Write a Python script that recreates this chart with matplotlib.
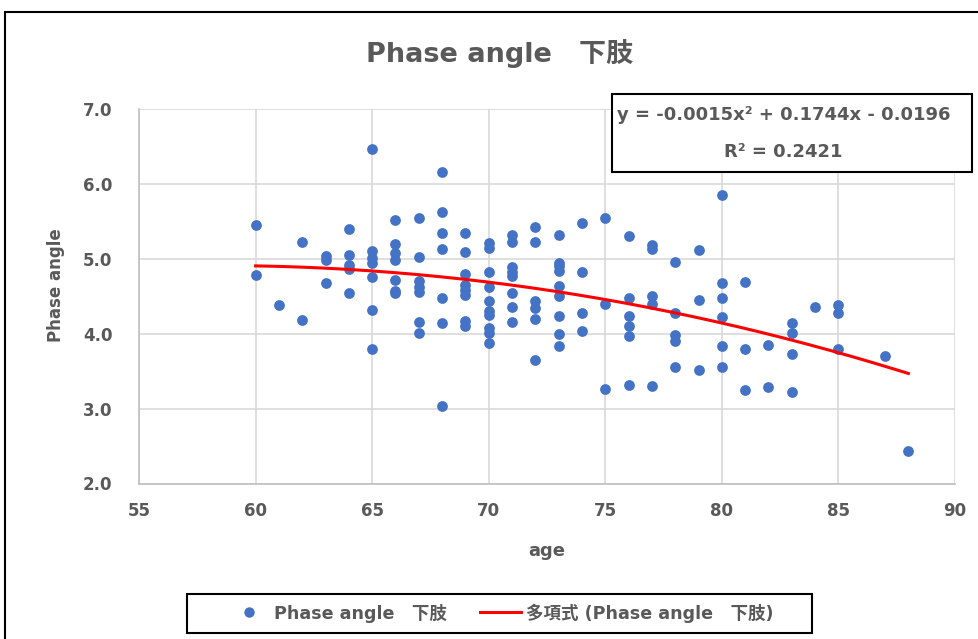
import numpy as np
import matplotlib
matplotlib.use("Agg")
import matplotlib.pyplot as plt
from matplotlib.lines import Line2D
from matplotlib.patches import Rectangle

plt.rcParams['font.family'] = ['DejaVu Sans', 'Noto Sans CJK JP']

# Phase angle (lower limb) by age
ages = {
    60: [5.45, 4.78],
    61: [4.38],
    62: [5.22, 4.18],
    63: [5.04, 4.98, 4.68],
    64: [5.40, 5.05, 4.92, 4.87, 4.54],
    65: [6.47, 5.10, 5.01, 4.94, 4.76, 4.31, 3.79],
    66: [5.52, 5.20, 5.08, 4.99, 4.72, 4.57, 4.54],
    67: [5.55, 5.03, 4.70, 4.63, 4.56, 4.16, 4.01],
    68: [6.16, 5.62, 5.35, 5.13, 4.48, 4.14, 3.03],
    69: [5.35, 5.09, 4.80, 4.65, 4.59, 4.52, 4.17, 4.10],
    70: [5.21, 5.14, 4.83, 4.63, 4.43, 4.30, 4.25, 4.08, 4.01, 3.88],
    71: [5.32, 5.22, 4.89, 4.83, 4.77, 4.55, 4.36, 4.15],
    72: [5.43, 5.23, 4.43, 4.34, 4.19, 3.65],
    73: [5.32, 4.95, 4.90, 4.84, 4.64, 4.50, 4.24, 3.99, 3.84],
    74: [5.48, 4.82, 4.27, 4.03],
    75: [5.55, 4.40, 3.26],
    76: [5.30, 4.48, 4.23, 4.10, 3.97, 3.32],
    77: [5.18, 5.13, 4.50, 4.39, 3.30],
    78: [4.96, 4.28, 3.98, 3.90, 3.56],
    79: [5.12, 4.45, 3.52],
    80: [5.85, 4.68, 4.47, 4.22, 3.83, 3.56],
    81: [4.69, 3.79, 3.25],
    82: [3.85, 3.29],
    83: [4.14, 4.01, 3.73, 3.22],
    84: [4.36],
    85: [4.38, 4.27, 3.80],
    87: [3.70],
    88: [2.43],
}
age = np.array([a for a, vals in ages.items() for _ in vals], dtype=float)
phase = np.array([v for vals in ages.values() for v in vals])

x_ticks = [55, 60, 65, 70, 75, 80, 85, 90]
y_ticks = [2.0, 3.0, 4.0, 5.0, 6.0, 7.0]
title = "Phase angle\u3000下肢"
series_label = "Phase angle\u3000下肢"
trend_label = "多項式 (Phase angle\u3000下肢)"
equation = "y = -0.0015x² + 0.1744x - 0.0196"
r2_text = "R² = 0.2421"

GRAY = "#595959"
BLUE = "#4472C4"

W, H = 979, 639
fig = plt.figure(figsize=(W / 100, H / 100), dpi=100)

def fx(px):
    return px / W

def fy(py):
    return 1 - py / H

AX_L, AX_R, AX_T, AX_B = 139, 955, 109, 483.5
ax = fig.add_axes([fx(AX_L), fy(AX_B), fx(AX_R) - fx(AX_L), fy(AX_T) - fy(AX_B)])

ax.scatter(age, phase, s=60, color=BLUE, zorder=3, linewidths=0)

coef = np.polyfit(age, phase, 2)
xs = np.linspace(age.min(), age.max(), 200)
ax.plot(xs, np.polyval(coef, xs), color="#FF0000", lw=2.2, zorder=4)

ax.set_xlim(55, 90)
ax.set_ylim(2, 7)
ax.set_xticks(x_ticks)
ax.set_yticks(y_ticks)
ax.set_yticklabels([f"{v:.1f}" for v in y_ticks])
ax.grid(True, color="#d9d9d9", lw=1.2)
ax.set_axisbelow(True)
for side in ("top", "right"):
    ax.spines[side].set_visible(False)
for side in ("left", "bottom"):
    ax.spines[side].set_color("#bfbfbf")
    ax.spines[side].set_linewidth(1.2)
ax.tick_params(length=0, labelsize=12, labelcolor=GRAY)
ax.tick_params(axis="y", pad=19)
ax.tick_params(axis="x", pad=13)
for lab in ax.get_xticklabels() + ax.get_yticklabels():
    lab.set_fontweight("bold")

ax.set_xlabel("age", fontsize=13, fontweight="bold", color=GRAY, labelpad=16)
ax.set_ylabel("Phase angle", fontsize=12, fontweight="bold", color=GRAY)
ax.yaxis.set_label_coords((65 - AX_L) / (AX_R - AX_L), (AX_B - 285) / (AX_B - AX_T))

fig.text(fx(500), fy(53), title, ha="center", va="center", fontsize=19.5,
         fontweight="bold", color=GRAY)

# outer chart frame
fig.patches.append(Rectangle((fx(5), -0.1), 1.2, fy(12) + 0.1, transform=fig.transFigure,
                             fill=False, edgecolor="black", lw=1.5))

# trendline equation box
fig.patches.append(Rectangle((fx(612), fy(172)), fx(972) - fx(612), fy(94) - fy(172),
                             transform=fig.transFigure, facecolor="white",
                             edgecolor="black", lw=1.5, zorder=5))
fig.text(fx(784), fy(115), equation, ha="center", va="center", fontsize=13,
         fontweight="bold", color=GRAY, zorder=6)
fig.text(fx(783), fy(152), r2_text, ha="center", va="center", fontsize=13,
         fontweight="bold", color=GRAY, zorder=6)

# legend
fig.patches.append(Rectangle((fx(187), fy(633)), fx(812) - fx(187), fy(594) - fy(633),
                             transform=fig.transFigure, facecolor="white",
                             edgecolor="black", lw=1.5))
handles = [
    Line2D([], [], ls="none", marker="o", markersize=7.5, color=BLUE, markeredgewidth=0),
    Line2D([], [], color="#FF0000", lw=2.2),
]
leg = fig.legend(handles, [series_label, trend_label], ncol=2, frameon=False,
                 loc="center left", bbox_to_anchor=(fx(220), fy(613)),
                 prop={"size": 12.6, "weight": "bold"}, handlelength=2.3,
                 handletextpad=0.3, columnspacing=1.9, borderpad=0)
for t in leg.get_texts():
    t.set_color(GRAY)

fig.savefig("out.png", dpi=100)
